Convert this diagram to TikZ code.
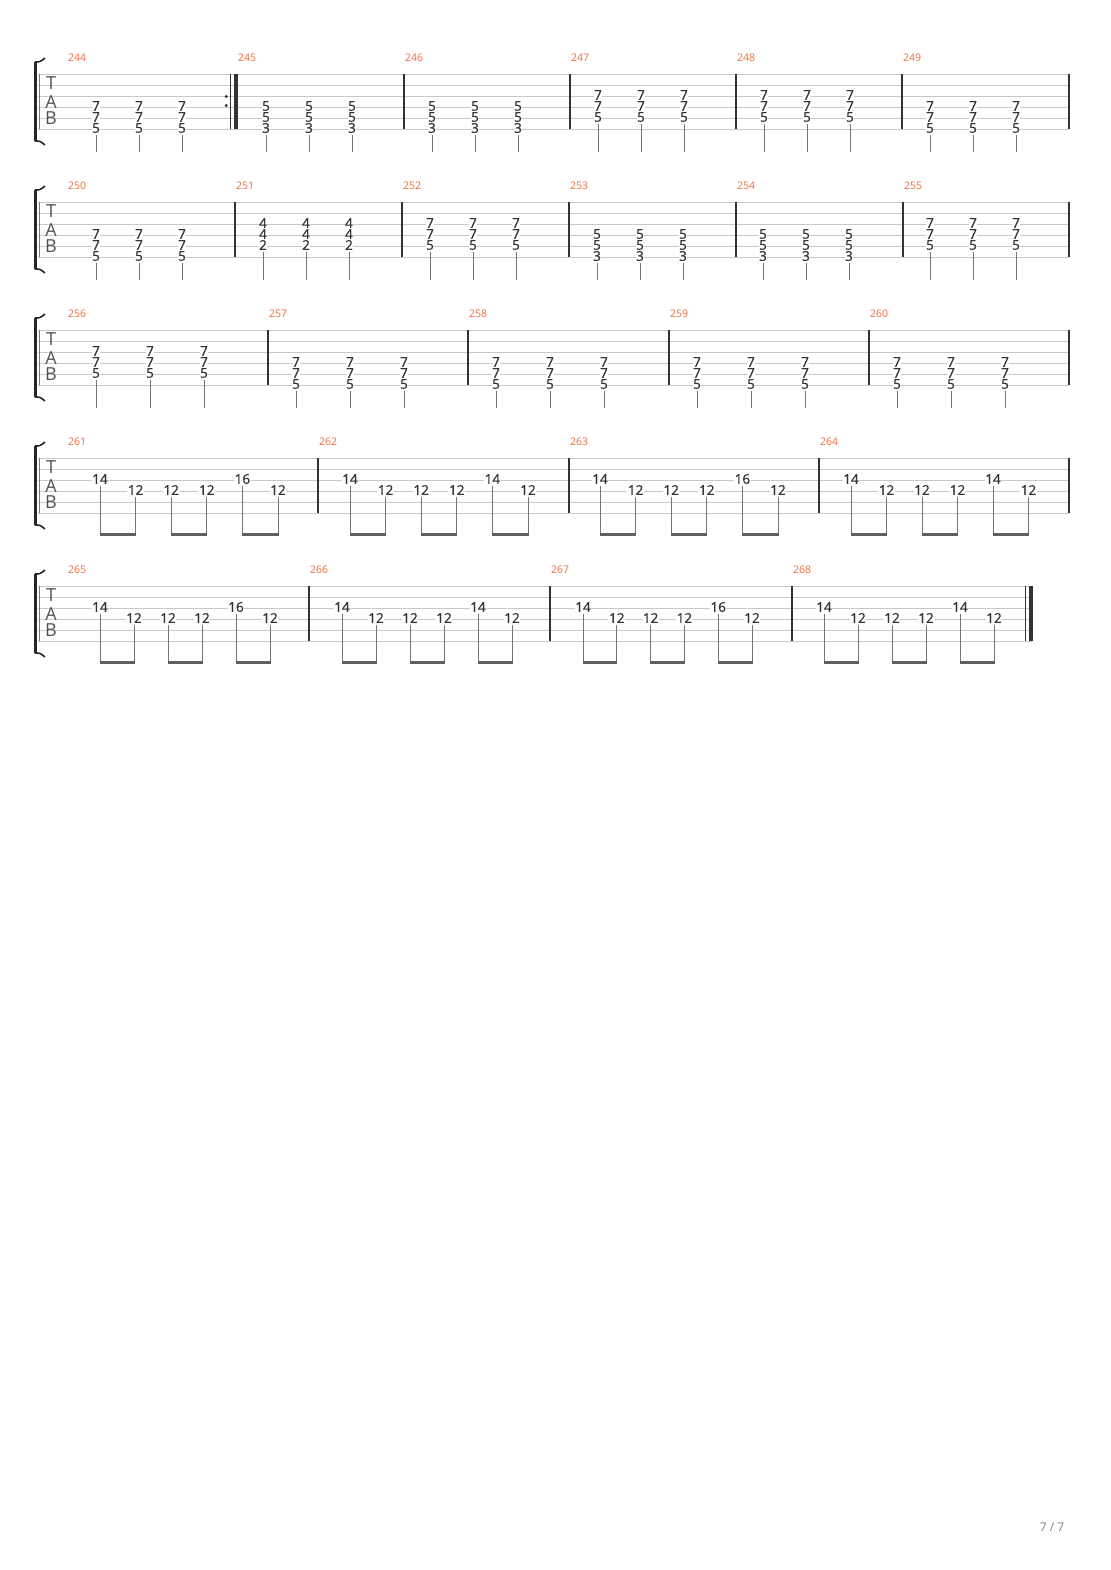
\documentclass[tikz,border=0pt]{standalone}
\usepackage{fontspec}
\setmainfont{Open Sans}
\newfontfamily\fretfont[FakeBold=0.9]{Open Sans}
\definecolor{numorange}{RGB}{243,107,58}
\definecolor{staffgray}{RGB}{200,200,200}
\definecolor{inkgray}{RGB}{51,51,51}
\definecolor{stemgray}{RGB}{115,115,115}
\definecolor{beamgray}{RGB}{95,95,95}
\tikzset{
  staffline/.style={staffgray, line width=0.8pt},
  barline/.style={inkgray, line width=1.2pt},
  fret/.style={fill=white, inner sep=0.6pt, text=inkgray, font=\fretfont\fontsize{13.5}{14}\selectfont},
  measnum/.style={anchor=west, inner sep=0pt, text=numorange, font=\fontsize{10.5}{12}\selectfont},
  stem/.style={stemgray, line width=1pt},
  beam/.style={beamgray, line width=2.6pt},
  tabletter/.style={inner sep=0pt, text=inkgray!85, text height=12.5pt, text depth=0pt, font=\fontsize{18}{19}\selectfont},
}
% one tab system: top y, right end x
\newcommand{\tabsys}[2]{%
  \foreach \s in {0,...,5} \draw[staffline] (38,#1+11*\s) -- (#2,#1+11*\s);
  \draw[staffgray!60!black, line width=0.8pt] (39,#1) -- (39,#1+55);
  \draw[line width=3pt, black!85] (35.5,#1-12) -- (35.5,#1+67);
  \draw[line width=1.6pt, black!85] (35,#1-12) .. controls (40,#1-12) .. (45,#1-16);
  \draw[line width=1.6pt, black!85] (35,#1+67) .. controls (40,#1+67) .. (45,#1+71);
  \node[tabletter] (T#1) at (51,#1+9) {T};
  \node[tabletter] (A#1) at (51,#1+28) {A};
  \node[tabletter] (B#1) at (51,#1+44) {B};
}
\newcommand{\bars}[2]{\foreach \x in {#2} \draw[barline] (\x,#1) -- (\x,#1+55);}
% chord measure: number, top, xs, top string index, frets
\newcommand{\chords}[7]{%
  \foreach \x [count=\i] in {#3} {
    \node[fret] (c#1-\i-a) at (\x,#2+11*#4-1) {#5};
    \node[fret] (c#1-\i-b) at (\x,#2+11*#4+10) {#6};
    \node[fret] (c#1-\i-c) at (\x,#2+11*#4+21) {#7};
    \coordinate (ce#1-\i) at (\x,#2+78);
    \draw[stem] ([yshift=-1.5pt]c#1-\i-c.south) -- (ce#1-\i);
  }}
% eighth run: number, top, first x, step, fifth fret
\newcommand{\run}[5]{%
  \foreach \k/\s/\f in {0/3/14,1/4/12,2/4/12,3/4/12,4/3/#5,5/4/12} {
    \node[fret] (r#1-\k) at (#3+\k*#4,#2+11*\s-12) {\f};
    \coordinate (re#1-\k) at (#3+\k*#4,#2+78);
    \draw[stem] ([yshift=-1pt]r#1-\k.south) -- (re#1-\k);
  }
  \foreach \k in {0,2,4} {
    \pgfmathtruncatemacro\kn{\k+1}
    \draw[beam] ([xshift=-0.5pt,yshift=1.3pt]re#1-\k) -- ([xshift=0.5pt,yshift=1.3pt]re#1-\kn);
  }}
\begin{document}
\begin{tikzpicture}[x=1pt, y=-1pt, line cap=butt]
\useasboundingbox (0,0) rectangle (1110,1570);
\fill[white] (0,0) rectangle (1110,1570);

\tabsys{74}{1069}
\tabsys{202}{1069}
\tabsys{330}{1069}
\tabsys{458}{1069}
\tabsys{586}{1032}

\bars{74}{404,570,736,902,1069}
\bars{202}{235,402,569,736,903,1069}
\bars{330}{268,468,669,869,1069}
\bars{458}{318,569,819,1069}
\bars{586}{309,550,792}
% repeat end and final bar
\draw[barline] (230.3,74) -- (230.3,129);
\draw[inkgray, line width=3.6pt] (235.8,74) -- (235.8,129);
\fill[inkgray] (226.3,96.5) circle (1.6pt) (226.3,105.5) circle (1.6pt);
\draw[barline] (1025.7,586) -- (1025.7,641);
\draw[inkgray, line width=4pt] (1030.5,586) -- (1030.5,641);

\foreach \n/\x in {244/68,245/238,246/405,247/571,248/737,249/903}
  \node[measnum] (m\n) at (\x,58) {\n};
\foreach \n/\x in {250/68,251/236,252/403,253/570,254/737,255/904}
  \node[measnum] (m\n) at (\x,186) {\n};
\foreach \n/\x in {256/68,257/269,258/469,259/670,260/870}
  \node[measnum] (m\n) at (\x,314) {\n};
\foreach \n/\x in {261/68,262/319,263/570,264/820}
  \node[measnum] (m\n) at (\x,442) {\n};
\foreach \n/\x in {265/68,266/310,267/551,268/793}
  \node[measnum] (m\n) at (\x,570) {\n};

\chords{244}{74}{96,139,182}{3}{7}{7}{5}
\chords{245}{74}{266,309,352}{3}{5}{5}{3}
\chords{246}{74}{432,475,518}{3}{5}{5}{3}
\chords{247}{74}{598,641,684}{2}{7}{7}{5}
\chords{248}{74}{764,807,850}{2}{7}{7}{5}
\chords{249}{74}{930,973,1016}{3}{7}{7}{5}

\chords{250}{202}{96,139,182}{3}{7}{7}{5}
\chords{251}{202}{263,306,349}{2}{4}{4}{2}
\chords{252}{202}{430,473,516}{2}{7}{7}{5}
\chords{253}{202}{597,640,683}{3}{5}{5}{3}
\chords{254}{202}{763,806,849}{3}{5}{5}{3}
\chords{255}{202}{930,973,1016}{2}{7}{7}{5}

\chords{256}{330}{96,150,204}{2}{7}{7}{5}
\chords{257}{330}{296,350,404}{3}{7}{7}{5}
\chords{258}{330}{496,550,604}{3}{7}{7}{5}
\chords{259}{330}{697,751,805}{3}{7}{7}{5}
\chords{260}{330}{897,951,1005}{3}{7}{7}{5}

\run{261}{458}{100}{35.6}{16}
\run{262}{458}{350}{35.6}{14}
\run{263}{458}{600}{35.6}{16}
\run{264}{458}{851}{35.5}{14}
\run{265}{586}{100}{34}{16}
\run{266}{586}{342}{34}{14}
\run{267}{586}{583}{33.8}{16}
\run{268}{586}{824}{34}{14}

\node[text=black!50, font=\fontsize{12}{14}\selectfont] (pagefoot) at (1052,1527) {7 / 7};
\end{tikzpicture}
\end{document}
